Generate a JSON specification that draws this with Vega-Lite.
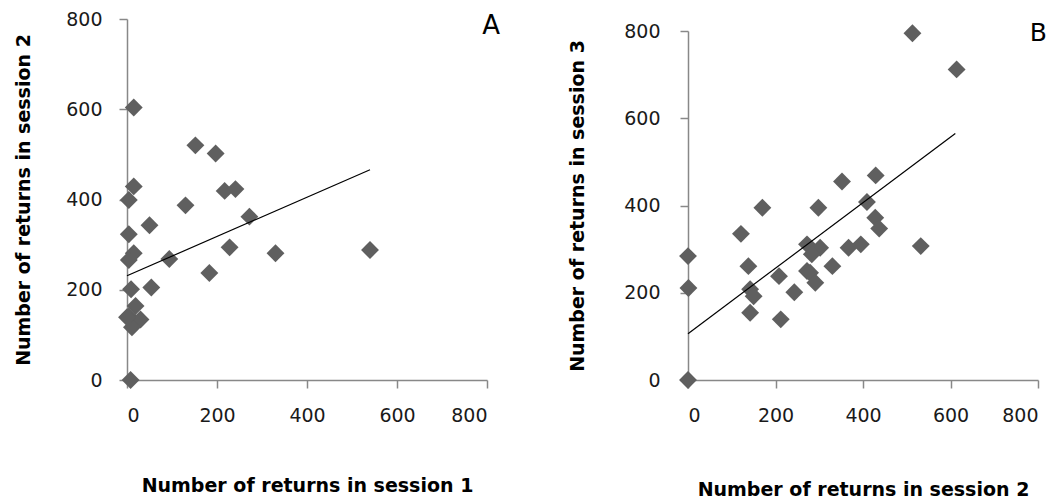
{
  "$schema": "https://vega.github.io/schema/vega-lite/v6.json",
  "background": "white",
  "padding": {"left": 14, "top": 10, "right": 5, "bottom": 3},
  "config": {
    "view": {"stroke": null},
    "font": "DejaVu Sans",
    "axis": {
      "grid": false,
      "domainColor": "#888888",
      "domainWidth": 1.5,
      "tickColor": "#888888",
      "tickWidth": 1.5,
      "tickSize": 8,
      "labelFont": "DejaVu Sans",
      "labelFontSize": 19,
      "labelColor": "#1a1a1a",
      "titleFont": "DejaVu Sans",
      "titleFontWeight": "bold",
      "titleFontSize": 19,
      "titleColor": "#000000"
    }
  },
  "datasets": {
    "a_points": [
      {"session1": 15, "session2": 604},
      {"session1": 152, "session2": 520},
      {"session1": 197, "session2": 502},
      {"session1": 15, "session2": 429},
      {"session1": 4, "session2": 399},
      {"session1": 217, "session2": 419},
      {"session1": 241, "session2": 423},
      {"session1": 130, "session2": 387},
      {"session1": 272, "session2": 362},
      {"session1": 50, "session2": 343},
      {"session1": 4, "session2": 323},
      {"session1": 15, "session2": 281},
      {"session1": 4, "session2": 266},
      {"session1": 228, "session2": 294},
      {"session1": 330, "session2": 281},
      {"session1": 94, "session2": 268},
      {"session1": 183, "session2": 237},
      {"session1": 9, "session2": 201},
      {"session1": 54, "session2": 205},
      {"session1": 19, "session2": 164},
      {"session1": 4, "session2": 141},
      {"session1": 30, "session2": 134},
      {"session1": 11, "session2": 117},
      {"session1": 0, "session2": 139},
      {"session1": 8, "session2": 0},
      {"session1": 540, "session2": 288}
    ],
    "a_fit": [
      {"session1": 0, "session2": 231},
      {"session1": 540, "session2": 466}
    ],
    "b_points": [
      {"session2": 513, "session3": 795},
      {"session2": 614, "session3": 712},
      {"session2": 429, "session3": 469},
      {"session2": 352, "session3": 455},
      {"session2": 409, "session3": 408},
      {"session2": 298, "session3": 395},
      {"session2": 170, "session3": 395},
      {"session2": 428, "session3": 372},
      {"session2": 437, "session3": 347},
      {"session2": 121, "session3": 335},
      {"session2": 532, "session3": 307},
      {"session2": 395, "session3": 311},
      {"session2": 367, "session3": 303},
      {"session2": 272, "session3": 311},
      {"session2": 302, "session3": 303},
      {"session2": 283, "session3": 288},
      {"session2": 0, "session3": 284},
      {"session2": 138, "session3": 261},
      {"session2": 330, "session3": 261},
      {"session2": 272, "session3": 250},
      {"session2": 208, "session3": 238},
      {"session2": 279, "session3": 246},
      {"session2": 291, "session3": 223},
      {"session2": 1, "session3": 211},
      {"session2": 142, "session3": 208},
      {"session2": 150, "session3": 192},
      {"session2": 243, "session3": 201},
      {"session2": 142, "session3": 154},
      {"session2": 212, "session3": 139},
      {"session2": 0, "session3": 0}
    ],
    "b_fit": [
      {"session2": 0, "session3": 106},
      {"session2": 611, "session3": 565}
    ]
  },
  "spacing": 68,
  "hconcat": [
    {
      "width": 360,
      "height": 361,
      "layer": [
        {
          "data": {"name": "a_points"},
          "mark": {"type": "point", "shape": "diamond", "filled": true, "size": 320, "color": "#5f5f5f", "opacity": 1},
          "encoding": {
            "x": {"field": "session1", "type": "quantitative", "scale": {"domain": [0, 800], "nice": false},
                  "axis": {"values": [0, 200, 400, 600, 800], "title": "Number of returns in session 1", "labelPadding": 18, "titlePadding": 51}},
            "y": {"field": "session2", "type": "quantitative", "scale": {"domain": [0, 800], "nice": false},
                  "axis": {"values": [0, 200, 400, 600, 800], "title": "Number of returns in session 2", "labelPadding": 17, "titlePadding": 32}}
          }
        },
        {
          "data": {"name": "a_fit"},
          "mark": {"type": "line", "color": "#000000", "strokeWidth": 1.2},
          "encoding": {
            "x": {"field": "session1", "type": "quantitative"},
            "y": {"field": "session2", "type": "quantitative"}
          }
        },
        {
          "data": {"values": [{}]},
          "mark": {"type": "text", "text": "A", "fontSize": 26, "font": "DejaVu Sans", "color": "#000000", "align": "center", "baseline": "middle"},
          "encoding": {
            "x": {"datum": 809, "type": "quantitative"},
            "y": {"datum": 785, "type": "quantitative"}
          }
        }
      ]
    },
    {
      "width": 350,
      "height": 361,
      "layer": [
        {
          "data": {"name": "b_points"},
          "mark": {"type": "point", "shape": "diamond", "filled": true, "size": 320, "color": "#5f5f5f", "opacity": 1},
          "encoding": {
            "x": {"field": "session2", "type": "quantitative", "scale": {"domain": [0, 800], "nice": false},
                  "axis": {"values": [0, 200, 400, 600, 800], "title": "Number of returns in session 2", "labelPadding": 18, "titlePadding": 55}},
            "y": {"field": "session3", "type": "quantitative", "scale": {"domain": [0, 800], "nice": false, "range": [361, 12]},
                  "axis": {"values": [0, 200, 400, 600, 800], "title": "Number of returns in  session 3", "labelPadding": 20, "titlePadding": 36}}
          }
        },
        {
          "data": {"name": "b_fit"},
          "mark": {"type": "line", "color": "#000000", "strokeWidth": 1.2},
          "encoding": {
            "x": {"field": "session2", "type": "quantitative"},
            "y": {"field": "session3", "type": "quantitative"}
          }
        },
        {
          "data": {"values": [{}]},
          "mark": {"type": "text", "text": "B", "fontSize": 25, "font": "DejaVu Sans", "color": "#000000", "align": "center", "baseline": "middle"},
          "encoding": {
            "x": {"datum": 801, "type": "quantitative"},
            "y": {"datum": 795, "type": "quantitative"}
          }
        }
      ]
    }
  ]
}
